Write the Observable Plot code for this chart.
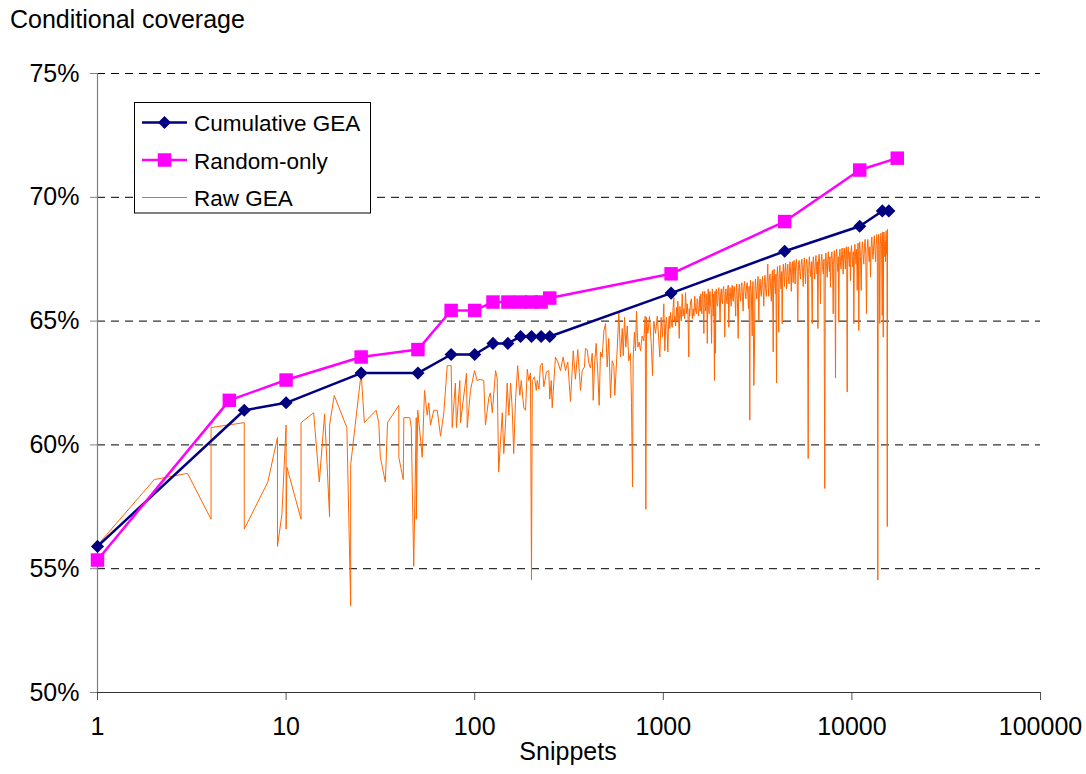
<!DOCTYPE html>
<html><head><meta charset="utf-8">
<script src="https://cdn.jsdelivr.net/npm/d3@7"></script>
<script src="https://cdn.jsdelivr.net/npm/@observablehq/plot@0.6"></script>
<style>
body{margin:0;background:#fff;}
#wrap{position:relative;width:1086px;height:774px;font-family:"Liberation Sans",Arial,sans-serif;}
#overlay{position:absolute;left:0;top:0;pointer-events:none;}
</style></head><body>
<div id="wrap"><div id="chart"></div>
<svg id="overlay" width="1086" height="774" font-family="Liberation Sans, Arial, sans-serif">
  <text x="10" y="28" font-size="25">Conditional coverage</text>
  <rect x="134.5" y="102.5" width="236" height="110.5" fill="#fff" stroke="#000" stroke-width="1"/>
  <line x1="142" x2="187" y1="122.5" y2="122.5" stroke="#000080" stroke-width="2.5"/>
  <path d="M164.5,116L171,122.5L164.5,129L158,122.5Z" fill="#000080"/>
  <text x="194" y="131" font-size="22.5">Cumulative GEA</text>
  <line x1="142" x2="187" y1="160" y2="160" stroke="#FF00FF" stroke-width="2.5"/>
  <rect x="157.75" y="153.25" width="13.5" height="13.5" fill="#FF00FF"/>
  <text x="194" y="168.5" font-size="22.5">Random-only</text>
  <line x1="142" x2="187" y1="197.5" y2="197.5" stroke="#FF6600" stroke-width="1"/>
  <text x="194" y="205.5" font-size="22.5">Raw GEA</text>
  <text x="568" y="760" font-size="25" text-anchor="middle">Snippets</text>
</svg>
</div>
<script>
const xTicks = [1, 10, 100, 1000, 10000, 100000];
const yTicks = [50, 55, 60, 65, 70, 75];
const gridY = [55, 60, 65, 70, 75];

const cumX = [1, 6, 10, 25, 50, 75, 100, 125, 150, 175, 200, 225, 250, 1100, 4400, 11000, 14500, 15700];
const cumY = [55.9, 61.4, 61.7, 62.9, 62.9, 63.65, 63.65, 64.1, 64.1, 64.38, 64.38, 64.38, 64.38, 66.13, 67.82, 68.83, 69.45, 69.45];

const randX = [1, 5, 10, 25, 50, 75, 100, 125, 150, 175, 200, 225, 250, 1100, 4400, 11000, 17400];
const randY = [55.35, 61.8, 62.62, 63.55, 63.85, 65.43, 65.43, 65.77, 65.77, 65.77, 65.77, 65.77, 65.93, 66.91, 69.02, 71.1, 71.58];

const rawGEA = [
[1,55.95],[2,58.6],[3,58.85],[4,57.0],[4,60.7],[6,60.9],[6,56.6],[8,58.5],[9,60.3],[9,55.9],[9.5,57.2],[10,60.8],[10,56.6],[10.1,59.1],[12,57.0],[12,60.9],[14,61.3],[15,58.5],[16,61.25],[17,57.1],[17,60.8],[18,62.0],[21,60.7],[22,53.5],[22,59.2],[25,62.9],[26,60.9],[30,61.4],[31,60.9],[31.6,59.5],[33.6,58.5],[34.5,60.9],[39.6,61.6],[39.6,59.5],[41.8,58.6],[42.1,61.1],[45.3,61.1],[46.1,60.7],[47.5,55.1],[49,61.1],[49,57.0],[49.9,61.4],[52.7,59.5],[54.2,62.2],[56,61.2],[57.1,61.7],[58.3,60.8],[60.7,61.4],[63.3,61.4],[65.9,60.35],[68.6,61.3],[71.5,63.2],[75,63.2],[76,60.7],[79,62.5],[80,60.7],[83.4,62.6],[84.1,60.9],[90.5,62.9],[91.3,60.7],[95,62.2],[99.8,63.0],
[103,62.6],[107,62.65],[111.7,62.6],[114,60.8],[118.8,61.9],[121,62.1],[124,61.3],[129,63.0],[131.6,62.7],[134,58.9],[140,61.3],[142.6,59.65],[145.6,60.85],[148.7,62.5],[151.7,61.2],[155,62.5],[158,61.5],[161,59.65],[164.6,61.8],[169,63.2],[173.5,62.0],[176.5,62.6],[182,61.5],[186,61.4],[190,63.05],[193.5,62.6],[197.6,62.9],[200,54.55],[202,62.6],[207.5,62.75],[212,62.2],[214.5,62.6],[219,62.25],[223,63.2],[228,63.3],[232.5,62.35],[240,62.95],[247,63.0],[250,61.85],[254.5,62.6],[257.6,61.5],[268,63.55],[276,63.35],[285,63.0],[294.5,63.55],[303,63.0],[311.6,63.35],[322,61.75],[333,63.8],[342,62.65],[352,63.85],[364,62.2],
[371.6,63.0],[382,63.15],[386.5,63.9],[395,63.85],[403,63.3],[411,63.1],[420,63.7],[425,61.8],[431.5,63.2],[440.5,64.1],[449.5,62.9],[457,61.6],[464.5,63.75],[474,63.55],[484,64.6],[494,64.9],[504,63.15],[514,64.3],[525,61.9],[536,63.4],[547,63.2],[553,62.0],[570,63.9],[581,65.35],[593,63.55],[606,64.7],[613,63.6],[623,65.15],[633,63.95],[644,64.8],[656,63.4],[670,63.7],[678,61.7],[687,58.3],[692,63.5],[703,64.55],[712,63.8],[721,65.4],[733,63.95],[745,64.15],[757,63.8],[773,64.4],[788,64.2],[802,65.2],[808,57.4],[815,65.15],[828,64.5],[845,65.2],[863,64.1],[877,62.8],[891,65.0],[910,64.5],[929,65.2],[940,64.6],[958,63.55],[974,65.15],[990,64.35],
[1006,65.7],[1012,64.9],[1019,63.8],[1030,64.9],[1040,65.15],[1048,64.6],[1057,63.75],[1066,64.9],[1075,65.2],[1083,64.7],[1092,65.35],[1104,64.9],[1115,64.75],[1126,65.5],[1137,65.95],[1144,65.0],[1151,65.2],[1163,64.8],[1175,65.55],[1184,65.0],[1194,65.8],[1205,65.1],[1215,64.3],[1224,65.6],[1233,65.4],[1246,65.0],[1260,66.1],[1272,65.2],[1285,65.5],[1298,65.1],[1312,66.15],[1325,65.3],[1339,65.7],[1352,65.2],[1365,63.55],[1373,65.5],[1381,65.2],[1395,65.8],[1410,65.9],[1425,65.1],[1440,65.5],[1454,65.2],[1468,66.0],[1484,65.4],[1499,65.3],[1511,65.9],[1523,65.8],[1536,65.2],[1549,65.5],[1561,66.0],
[1570,65.4],[1580,66.1],[1590,65.6],[1600,65.3],[1610,66.0],[1620,66.2],[1630,65.5],[1641,64.5],[1650,65.9],[1660,66.2],[1670,65.6],[1680,65.4],[1690,66.0],[1700,66.1],[1711,64.1],[1720,65.8],[1730,66.3],[1740,65.6],[1750,65.3],[1760,66.1],[1770,66.2],[1780,65.7],[1790,65.5],[1803,64.1],[1812,65.9],[1820,66.3],[1830,65.7],[1840,65.2],[1852,66.1],[1868,62.6],[1875,65.8],[1880,66.2],[1891,63.7],[1900,65.9],[1910,66.3],[1925,65.7],[1940,65.6],[1955,66.2],[1970,66.35],[1985,65.8],[2000,65.0],[2015,66.1],[2030,66.3],[2045,65.8],[2060,65.7],[2075,66.3],[2090,66.4],[2105,65.9],[2119,64.35],[2135,66.2],[2150,66.3],[2165,65.8],[2180,65.7],[2195,66.3],[2210,66.45],[2224,64.75],[2240,66.0],[2260,66.35],[2275,65.9],[2290,65.6],[2305,66.3],[2320,66.45],[2335,65.9],[2350,65.8],[2365,66.35],[2380,66.4],[2400,65.9],[2420,65.2],[2435,66.3],[2450,66.5],[2470,65.9],[2495,64.3],[2510,66.2],[2530,66.5],[2550,66.0],
[2570,65.8],[2590,66.4],[2610,66.55],[2630,66.0],[2650,65.4],[2675,66.4],[2700,66.6],[2720,66.1],[2740,65.9],[2765,66.45],[2790,66.55],[2810,66.0],[2830,65.5],[2850,66.4],[2875,61.0],[2888,66.2],[2900,66.65],[2930,66.1],[2960,64.4],[2975,66.3],[2990,66.6],[3020,62.4],[3046,64.0],[3062,66.3],[3080,66.7],[3105,66.2],[3130,65.9],[3155,66.5],[3180,66.8],[3209,65.0],[3235,66.4],[3260,66.7],[3285,66.2],[3310,66.0],[3335,66.6],[3360,66.8],[3385,66.2],[3410,65.6],[3435,66.6],[3460,66.85],[3490,66.3],[3520,66.0],[3550,66.6],[3580,67.3],[3600,66.4],[3620,66.0],[3650,66.7],[3680,66.9],[3710,66.3],[3740,65.8],[3765,66.7],[3790,67.05],[3826,63.75],[3848,66.7],[3870,67.1],[3900,66.5],[3930,66.1],[3955,66.9],[3984,62.5],[4005,66.8],[4030,67.2],[4060,66.6],[4097,64.55],[4120,66.9],[4150,67.25],[4180,66.7],[4210,66.3],[4240,67.0],[4269,64.9],[4300,66.9],[4330,67.3],
[4360,66.8],[4390,66.4],[4420,67.1],[4450,67.35],[4480,66.8],[4510,66.3],[4540,67.1],[4570,67.3],[4600,66.8],[4640,66.5],[4670,67.2],[4700,67.4],[4735,66.9],[4770,66.2],[4805,67.2],[4840,67.4],[4860,66.9],[4882,66.55],[4910,67.2],[4940,67.45],[4970,67.0],[5000,66.5],
[5040,67.3],[5080,67.5],[5120,67.0],[5164,65.0],[5205,67.3],[5250,67.45],[5295,67.0],[5340,66.7],[5385,67.3],[5430,67.5],[5475,67.0],[5520,66.4],[5560,67.3],[5600,67.55],[5640,67.0],[5675,66.5],[5720,67.3],[5760,67.5],[5810,67.1],[5865,59.45],[5905,67.2],[5950,67.6],[6000,67.1],[6050,66.8],[6100,67.4],[6160,64.9],[6205,67.3],[6250,67.6],[6300,67.1],[6350,66.7],[6400,67.4],[6450,67.65],[6490,67.2],[6530,66.9],[6560,67.4],[6600,64.7],[6650,67.4],[6700,67.7],[6760,67.2],[6817,65.7],[6870,67.4],[6920,67.7],[6985,67.2],[7050,66.9],[7110,67.5],[7180,58.24],[7230,67.4],[7280,67.75],[7340,67.2],[7395,66.77],[7450,67.5],[7500,67.8],[7550,67.3],[7600,67.0],[7650,67.6],[7700,66.37],[7765,67.5],[7830,67.8],[7895,67.3],[7960,65.3],[8015,67.5],[8070,67.85],[8130,67.3],[8185,62.7],[8240,67.6],[8300,67.9],[8360,67.4],[8420,67.0],[8470,67.6],[8520,64.96],[8580,67.6],[8640,67.9],[8700,67.4],[8760,67.1],[8820,67.7],[8880,67.95],[8935,67.4],[8990,66.9],[9050,67.7],[9110,67.95],[9170,67.5],[9230,67.1],[9285,67.7],[9340,68.0],[9390,67.5],[9440,62.14],[9500,67.7],[9560,68.0],[9630,67.5],[9700,67.2],[9765,67.8],[9830,66.64],[9890,67.8],[9950,68.05],
[10025,67.6],[10100,67.2],[10170,67.8],[10240,64.9],[10310,67.8],[10380,68.1],[10450,67.6],[10520,67.3],[10595,67.9],[10670,66.24],[10725,67.8],[10780,68.15],[10830,67.6],[10880,64.62],[10940,67.9],[11000,68.2],[11100,67.6],[11200,66.24],[11290,67.9],[11380,68.2],[11470,67.7],[11560,67.3],[11655,68.0],[11750,68.3],[11850,67.7],[11950,65.3],[12050,67.9],[12150,68.3],[12250,67.8],[12350,67.4],[12450,68.0],[12550,66.77],[12650,68.0],[12750,68.4],[12850,67.8],[12950,67.5],[13050,68.1],[13150,68.45],[13250,67.9],[13350,67.4],[13450,68.1],[13550,68.5],[13640,67.9],[13720,54.54],[13800,68.0],[13880,68.5],[13965,67.9],[14050,64.9],[14150,68.1],[14250,68.55],[14365,68.0],[14480,65.23],[14530,68.2],[14580,68.6],[14620,68.0],[14660,64.35],[14730,68.2],[14800,68.6],[14875,68.0],[14950,67.6],[15010,68.2],[15080,67.4],[15140,68.3],[15200,68.65],[15250,68.0],[15300,67.7],[15350,68.4],[15400,56.7],[15450,68.7]
];

const chart = Plot.plot({
  width: 1086,
  height: 774,
  marginLeft: 97,
  marginRight: 46,
  marginTop: 73,
  marginBottom: 82,
  style: {fontFamily: "Liberation Sans, Arial, sans-serif", fontSize: "25px", background: "#fff", color: "#000"},
  x: {type: "log", domain: [1, 100000]},
  y: {domain: [50, 75]},
  marks: [
    Plot.ruleY(gridY, {x1: 1, x2: 100000, stroke: "#000", strokeWidth: 1, strokeDasharray: "8,6"}),
    Plot.axisY({ticks: yTicks, tickSize: 7, tickPadding: 11, tickFormat: d => d + "%", label: null, fontSize: 25, stroke: "#808080"}),
    Plot.axisX({ticks: xTicks, tickSize: 8, tickPadding: 17, tickFormat: d => String(d), label: null, fontSize: 25, stroke: "#555"}),
    Plot.ruleX([1], {stroke: "#808080", strokeWidth: 1.2}),
    Plot.ruleY([50], {stroke: "#333", strokeWidth: 1.2}),
    Plot.line(rawGEA, {x: d => d[0], y: d => d[1], stroke: "#FF6600", strokeWidth: 1}),
    Plot.line(cumX.map((x, i) => ({x, y: cumY[i]})), {x: "x", y: "y", stroke: "#000080", strokeWidth: 2.5}),
    Plot.dot(cumX.map((x, i) => ({x, y: cumY[i]})), {x: "x", y: "y", symbol: "diamond2", r: 5.9, fill: "#000080", stroke: "none"}),
    Plot.line(randX.map((x, i) => ({x, y: randY[i]})), {x: "x", y: "y", stroke: "#FF00FF", strokeWidth: 2.5}),
    Plot.dot(randX.map((x, i) => ({x, y: randY[i]})), {x: "x", y: "y", symbol: "square", r: 7.6, fill: "#FF00FF", stroke: "none"})
  ]
});
document.getElementById("chart").appendChild(chart);
</script>
</body></html>
